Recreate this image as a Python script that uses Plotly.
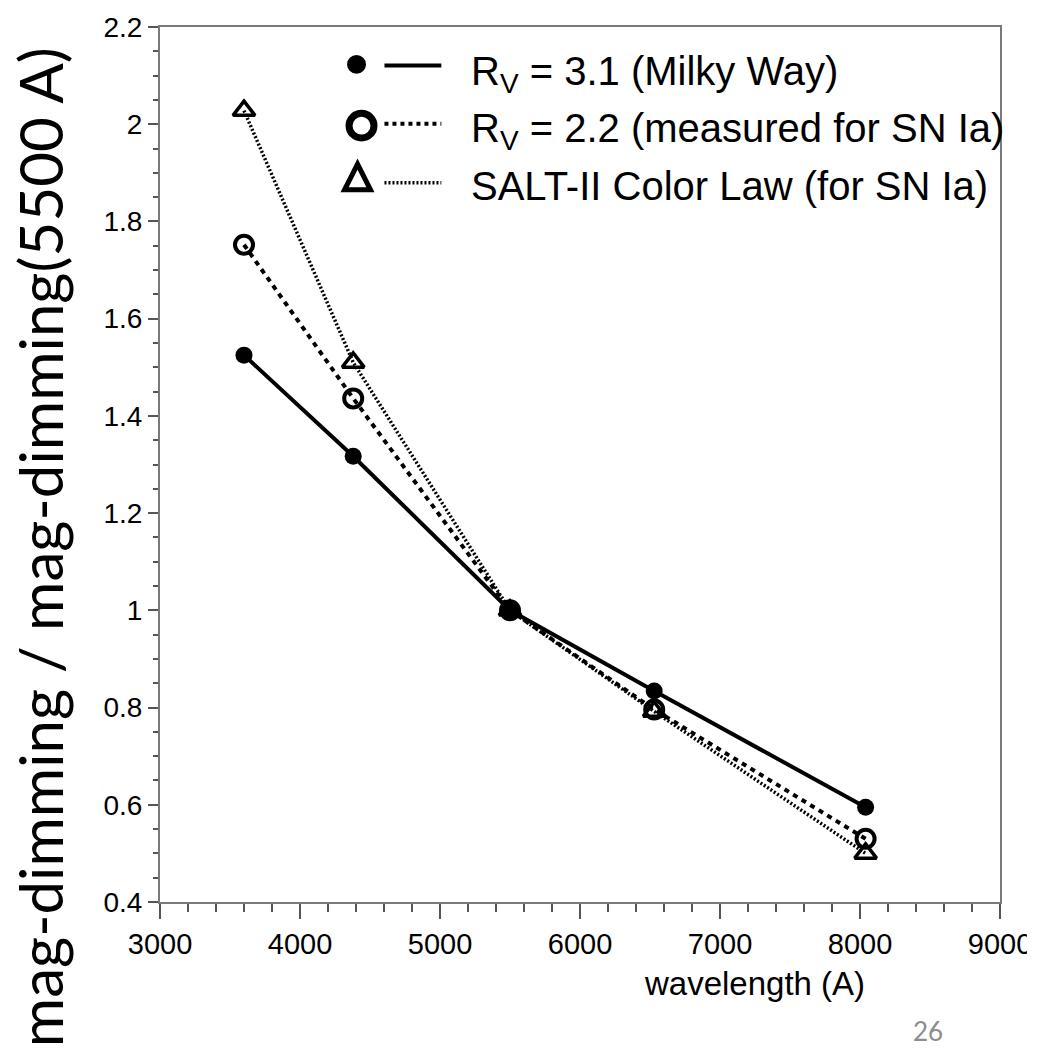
import plotly.graph_objects as go

# ---- data ----
wavelength = [3600, 4380, 5500, 6530, 8040]
milky_way = [1.525, 1.317, 1.0, 0.834, 0.595]
rv22 = [1.752, 1.436, 1.0, 0.796, 0.530]
salt2 = [2.028, 1.510, 1.0, 0.792, 0.500]

x_tickvals = [3000, 4000, 5000, 6000, 7000, 8000, 9000]
x_ticktext = ["3000", "4000", "5000", "6000", "7000", "8000", "9000"]
y_tickvals = [0.4, 0.6, 0.8, 1.0, 1.2, 1.4, 1.6, 1.8, 2.0, 2.2]
y_ticktext = ["0.4", "0.6", "0.8", "1", "1.2", "1.4", "1.6", "1.8", "2", "2.2"]

legend_labels = ["R<sub>V</sub> = 3.1 (Milky Way)",
                 "R<sub>V</sub> = 2.2 (measured for SN Ia)",
                 "SALT-II Color Law (for SN Ia)"]

# ---- layout geometry (pixels) ----
W, H = 1044, 1050
L, R, T, B = 160, 42, 15, 148
PW, PH = W - L - R, H - T - B


def px(xp):
    return (xp - L) / PW


def py(yp):
    return (H - B - yp) / PH


SANS = "Liberation Sans, Arial, Helvetica, sans-serif"

fig = go.Figure()
fig.add_trace(go.Scatter(
    x=wavelength, y=salt2, mode="lines+markers",
    line=dict(color="black", width=3.5, dash="2px,2px"),
    marker=dict(symbol="triangle-up-open", size=19, color="black",
                line=dict(width=3.5, color="black")),
    showlegend=False))
fig.add_trace(go.Scatter(
    x=wavelength, y=rv22, mode="lines+markers",
    line=dict(color="black", width=4, dash="5px,5px"),
    marker=dict(symbol="circle-open", size=18, color="black",
                line=dict(width=4, color="black")),
    showlegend=False))
fig.add_trace(go.Scatter(
    x=wavelength, y=milky_way, mode="lines+markers",
    line=dict(color="black", width=4),
    marker=dict(symbol="circle", size=17, color="black"),
    showlegend=False))

shapes = []
# legend row 1: filled circle + solid line
r = 9.5
shapes.append(dict(type="circle", xref="paper", yref="paper",
                   x0=px(357 - r), x1=px(357 + r), y0=py(53 + r), y1=py(53 - r),
                   fillcolor="black", line=dict(width=0)))
shapes.append(dict(type="line", xref="paper", yref="paper",
                   x0=px(385), x1=px(442), y0=py(54), y1=py(54),
                   line=dict(color="black", width=4)))
# legend row 2: open circle + dashed line
r = 12.5
shapes.append(dict(type="circle", xref="paper", yref="paper",
                   x0=px(362 - r), x1=px(362 + r), y0=py(115 + r), y1=py(115 - r),
                   line=dict(color="black", width=7)))
shapes.append(dict(type="line", xref="paper", yref="paper",
                   x0=px(385), x1=px(442), y0=py(113), y1=py(113),
                   line=dict(color="black", width=4, dash="4px,4px")))
# legend row 3: open triangle + dotted line
tri = "M {:.5f} {:.5f} L {:.5f} {:.5f} L {:.5f} {:.5f} Z".format(
    px(358), py(154), px(345), py(180), px(371), py(180))
shapes.append(dict(type="path", xref="paper", yref="paper", path=tri,
                   line=dict(color="black", width=5)))
shapes.append(dict(type="line", xref="paper", yref="paper",
                   x0=px(385), x1=px(442), y0=py(173), y1=py(173),
                   line=dict(color="black", width=3.5, dash="2px,2px")))
# edge of the source image clips the last x tick label
shapes.append(dict(type="rect", xref="paper", yref="paper", layer="above",
                   x0=px(1029), x1=px(1050), y0=py(965), y1=py(915),
                   fillcolor="white", line=dict(width=0)))

annotations = []
for lab, yy in zip(legend_labels, [63, 120, 176]):
    annotations.append(dict(text=lab, xref="paper", yref="paper",
                            x=px(470), y=py(yy), xanchor="left", yanchor="middle",
                            showarrow=False, font=dict(family=SANS, size=40, color="black")))
annotations.append(dict(text="wavelength (A)", xref="paper", yref="paper",
                        x=px(756), y=py(985), xanchor="center", yanchor="middle",
                        showarrow=False, font=dict(family=SANS, size=33, color="black")))
annotations.append(dict(text="mag-dimming / mag-dimming(5500 A)", xref="paper", yref="paper",
                        x=px(40), y=py(542), xanchor="center", yanchor="middle",
                        textangle=-90, showarrow=False,
                        font=dict(family="Lato, Open Sans, sans-serif", size=60, color="black")))
annotations.append(dict(text="26", xref="paper", yref="paper",
                        x=px(930), y=py(1033), xanchor="center", yanchor="middle",
                        showarrow=False,
                        font=dict(family="Lato, Open Sans, sans-serif", size=26, color="#8c8c8c")))

fig.update_layout(
    width=W, height=H,
    margin=dict(l=L, r=R, t=T, b=B, pad=0),
    paper_bgcolor="white", plot_bgcolor="white",
    shapes=shapes, annotations=annotations,
    xaxis=dict(range=[3000, 9000], tickvals=x_tickvals, ticktext=x_ticktext,
               showgrid=False, zeroline=False,
               showline=True, linecolor="#7a7a7a", linewidth=2, mirror=True,
               ticks="outside", ticklen=15, tickwidth=1.5, tickcolor="#555",
               ticklabeloverflow="allow",
               minor=dict(dtick=200, ticks="outside", ticklen=8, tickwidth=1.5, tickcolor="#555"),
               tickfont=dict(family=SANS, size=29, color="black")),
    yaxis=dict(range=[0.4, 2.2], tickvals=y_tickvals, ticktext=y_ticktext,
               showgrid=False, zeroline=False,
               showline=True, linecolor="#7a7a7a", linewidth=2, mirror=True,
               ticks="outside", ticklen=10, tickwidth=1.5, tickcolor="#555",
               ticklabeloverflow="allow",
               minor=dict(dtick=0.05, ticks="outside", ticklen=5, tickwidth=1.5, tickcolor="#555"),
               tickfont=dict(family=SANS, size=28, color="black")),
)

fig.write_html("out.html")
